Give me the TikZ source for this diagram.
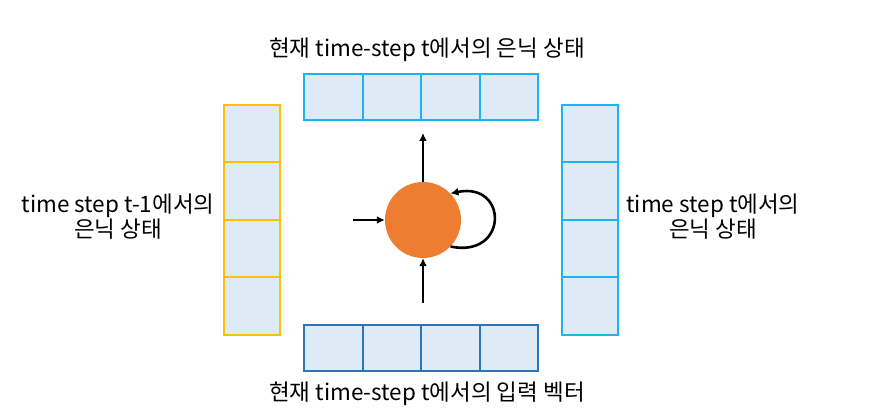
\documentclass[tikz,border=0pt]{standalone}
\usepackage{fontspec}
\setmainfont{Noto Sans CJK KR}
\usetikzlibrary{arrows.meta,positioning,backgrounds}
\definecolor{cellfill}{HTML}{DEEBF7}
\definecolor{prevedge}{HTML}{FFC000}
\definecolor{curedge}{HTML}{1CB4EF}
\definecolor{inedge}{HTML}{2E75B6}
\definecolor{rnnorange}{HTML}{ED7D31}

\begin{document}
\begin{tikzpicture}[x=1pt, y=-1pt,
  font=\fontsize{22.5}{25}\selectfont,
  hcell/.style={draw, line width=2pt, minimum width=58.5pt,
                minimum height=46pt, inner sep=0pt, outer sep=0pt},
  vcell/.style={draw, line width=2pt, minimum width=56pt,
                minimum height=57.5pt, inner sep=0pt, outer sep=0pt},
  lbl/.style={align=center, inner sep=0pt},
  arr/.style={-{Latex[length=8pt, width=8pt]}, line width=2.6pt},
]
\useasboundingbox (0,0) rectangle (878,419);
% hidden state at t (top) and input vector (bottom)
\node[hcell, draw=curedge] (top0) at (333.25,97) {};
\node[hcell, draw=inedge] (bot0) at (333.25,348) {};
\foreach \i [count=\j from 1] in {0,1,2} {
  \node[hcell, draw=curedge, right=0pt of top\i] (top\j) {};
  \node[hcell, draw=inedge, right=0pt of bot\i] (bot\j) {};
}
% hidden state at t-1 (left) and at t (right)
\node[vcell, draw=prevedge] (lft0) at (252,133.75) {};
\node[vcell, draw=curedge] (rgt0) at (590,133.75) {};
\foreach \i [count=\j from 1] in {0,1,2} {
  \node[vcell, draw=prevedge, below=0pt of lft\i] (lft\j) {};
  \node[vcell, draw=curedge, below=0pt of rgt\i] (rgt\j) {};
}
\begin{scope}[on background layer]
  \fill[cellfill] (top0.north west) rectangle (top3.south east);
  \fill[cellfill] (bot0.north west) rectangle (bot3.south east);
  \fill[cellfill] (lft0.north west) rectangle (lft3.south east);
  \fill[cellfill] (rgt0.north west) rectangle (rgt3.south east);
\end{scope}
% labels
\node[lbl] (toplbl) at (427,50) {현재 time-step t에서의 은닉 상태};
\node[lbl] (botlbl) at (427,394) {현재 time-step t에서의 입력 벡터};
\node[lbl] (lftlbl) at (118,217) {time step t-1에서의\\은닉 상태};
\node[lbl] (rgtlbl) at (713,217) {time step t에서의\\은닉 상태};
% cell
\node[circle, fill=rnnorange, minimum size=76pt, inner sep=0pt] (h) at (423,220) {};
\coordinate (inL) at (353,220);
\coordinate (outT) at (423,133);
\coordinate (inB) at (423,303);
\draw[arr] (inL) -- (h.west);
\draw[arr] (h.north) -- (outT);
\draw[arr] (inB) -- (h.south);
\draw[arr] (h.-44) .. controls +(58,12) and +(58,-12) .. (h.44);
\end{tikzpicture}
\end{document}
